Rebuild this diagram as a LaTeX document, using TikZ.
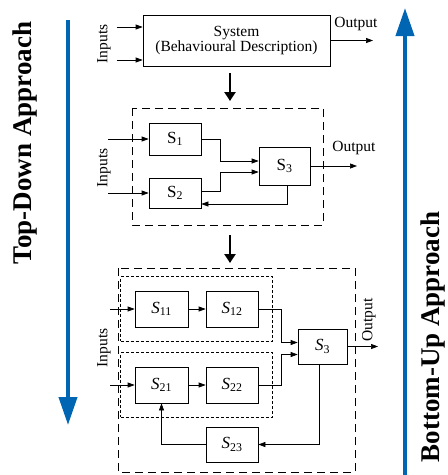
\documentclass[tikz,border=0pt]{standalone}
\usepackage{fontspec}
\setmainfont{Liberation Serif}
\usetikzlibrary{arrows.meta,fit}
\definecolor{flowblue}{RGB}{0,102,179}

\begin{document}
\begin{tikzpicture}[
        x=1pt, y=-1pt,
        line width=0.7pt,
        blockbox/.style={draw, line width=0.7pt, inner sep=0pt, align=center, font=\fontsize{15.5}{15}\selectfont},
        subbox/.style={blockbox, minimum width=52, minimum height=35, font=\fontsize{17}{18}\selectfont},
        groupbox/.style={draw, dash pattern=on 8pt off 5pt},
        subgroup/.style={draw, dash pattern=on 3pt off 2pt, inner sep=14pt},
        sig/.style={-{Triangle[length=7pt,width=5pt]}},
        refine/.style={-{Triangle[length=9pt,width=11pt]}, line width=2.5pt},
        approach/.style={flowblue, line width=4pt, -{Triangle[length=28pt,width=18pt]}},
        title/.style={rotate=90, inner sep=0pt, font=\fontsize{27}{29}\selectfont\bfseries},
        lbl/.style={font=\fontsize{15.5}{17}\selectfont}
    ]
    \useasboundingbox (0,0) rectangle (448,475);

    % ==========================================
    % APPROACH ARROWS
    % ==========================================
    \coordinate (tdtop) at (68,20);
    \coordinate (tdbot) at (68,425);
    \draw[approach] (tdtop) -- (tdbot);
    \node[title] (tdlbl) at (25,143) {Top-Down Approach};

    \coordinate (bubot) at (405,475);
    \coordinate (butop) at (405,8);
    \draw[approach] (bubot) -- (butop);
    \node[title] (bulbl) at (433,337) {Bottom-Up Approach};

    % ==========================================
    % LEVEL 1: behavioural description
    % ==========================================
    \node[blockbox, minimum width=187, minimum height=51] (sys) at (236.5,40.5) {System\\(Behavioural Description)};

    \coordinate (in1) at (117,27);
    \coordinate (in2) at (117,60);
    \draw[sig] (in1) -- (in1 -| sys.west);
    \draw[sig] (in2) -- (in2 -| sys.west);
    \node[lbl, rotate=90] (inlbl1) at (104,44) {Inputs};

    \coordinate (out1) at (373,40.5);
    \draw[sig] (sys.east) -- (out1);
    \node[lbl] (outlbl1) at (356,24) {Output};

    \coordinate (d1a) at (230,73);
    \coordinate (d1b) at (230,101);
    \draw[refine] (d1a) -- (d1b);

    % ==========================================
    % LEVEL 2: S1, S2, S3
    % ==========================================
    \draw[groupbox] (132,108) rectangle (323,225);

    \node[subbox, minimum height=32] (s1) at (175,139) {S\textsubscript{1}};
    \node[subbox, minimum height=30] (s2) at (175,193) {S\textsubscript{2}};
    \node[subbox, minimum width=51, minimum height=38] (s3) at (284.5,166) {S\textsubscript{3}};

    \coordinate (in3) at (108,139);
    \coordinate (in4) at (108,193);
    \draw[sig] (in3) -- (s1.west);
    \draw[sig] (in4) -- (s2.west);
    \node[lbl, rotate=90] (inlbl2) at (104,168) {Inputs};

    \draw[sig] (s1.east) -- ++(19,0) |- ([yshift=5pt]s3.west);
    \draw[sig] ([yshift=2pt]s2.east) -- ++(19,0) |- ([yshift=-6pt]s3.west);
    \draw[sig] ([xshift=3pt]s3.south) |- ([yshift=-11pt]s2.east);

    \coordinate (out2) at (357,166);
    \draw[sig] (s3.east) -- (out2);
    \node[lbl] (outlbl2) at (354,148) {Output};

    \coordinate (d2a) at (230,235);
    \coordinate (d2b) at (230,263);
    \draw[refine] (d2a) -- (d2b);

    % ==========================================
    % LEVEL 3: S11 ... S23
    % ==========================================
    \draw[groupbox] (118,268) rectangle (355,472);

    \node[subbox, minimum width=53, minimum height=36] (s11) at (161.5,309) {\textit{S}\textsubscript{11}};
    \node[subbox, minimum height=36] (s12) at (232,309) {\textit{S}\textsubscript{12}};
    \node[subbox, minimum width=53, minimum height=36] (s21) at (161.5,385) {\textit{S}\textsubscript{21}};
    \node[subbox, minimum height=36] (s22) at (232,385) {\textit{S}\textsubscript{22}};
    \node[subbox, minimum width=49] (s33) at (322.5,346.5) {\textit{S}\textsubscript{3}};
    \node[subbox] (s23) at (232,444.5) {\textit{S}\textsubscript{23}};

    \node[subgroup, fit=(s11)(s12)] (grp1) {};
    \node[subgroup, fit=(s21)(s22)] (grp2) {};

    \coordinate (in5) at (110,309);
    \coordinate (in6) at (110,385);
    \draw[sig] (in5) -- (s11.west);
    \draw[sig] (in6) -- (s21.west);
    \node[lbl, rotate=90] (inlbl3) at (104,348) {Inputs};

    \draw[sig] (s11) -- (s12);
    \draw[sig] (s21) -- (s22);
    \draw[sig] (s12.east) -- ++(23,0) |- ([yshift=4pt]s33.west);
    \draw[sig] (s22.east) -- ++(23,0) |- ([yshift=-8pt]s33.west);
    \draw[sig] ([xshift=-3pt]s33.south) |- (s23.east);
    \draw[sig] (s23.west) -| (s21.south);

    \coordinate (out3) at (378,346.5);
    \draw[sig] (s33.east) -- (out3);
    \node[lbl, rotate=90] (outlbl3) at (369,320) {Output};

\end{tikzpicture}
\end{document}
